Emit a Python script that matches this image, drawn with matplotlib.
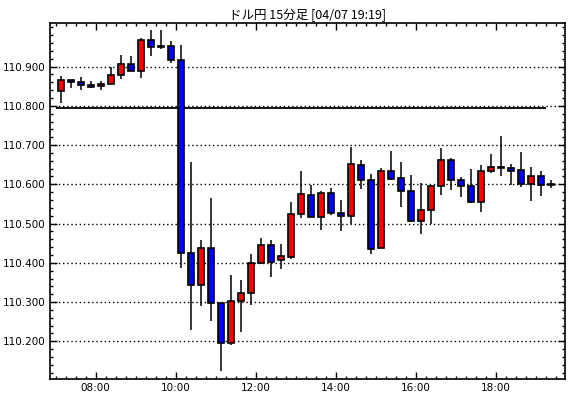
import matplotlib
matplotlib.use("Agg")
import matplotlib.pyplot as plt
import matplotlib.dates as mdates
from matplotlib.ticker import MultipleLocator, FixedLocator, FormatStrFormatter
import pandas as pd

plt.rcParams['font.family'] = ['Noto Sans CJK JP', 'DejaVu Sans']

title = "ドル円 15分足 [04/07 19:19]"
start_time = "2017-04-07 07:00"
n_bars = 50

opens = [110.839, 110.865, 110.860, 110.853, 110.850, 110.855, 110.878, 110.906, 110.888, 110.967,
         110.952, 110.952, 110.917, 110.425, 110.344, 110.439, 110.298, 110.196, 110.303, 110.322,
         110.400, 110.445, 110.406, 110.415, 110.524, 110.572, 110.516, 110.577, 110.526, 110.519,
         110.649, 110.611, 110.437, 110.634, 110.616, 110.583, 110.506, 110.534, 110.596, 110.662,
         110.611, 110.596, 110.555, 110.634, 110.644, 110.642, 110.637, 110.601, 110.622, 110.601]
highs = [110.876, 110.866, 110.874, 110.863, 110.863, 110.900, 110.930, 110.927, 110.972, 110.994,
         110.994, 110.966, 110.954, 110.657, 110.459, 110.566, 110.298, 110.368, 110.355, 110.422,
         110.464, 110.458, 110.448, 110.555, 110.634, 110.598, 110.582, 110.590, 110.560, 110.694,
         110.663, 110.626, 110.641, 110.686, 110.657, 110.624, 110.604, 110.597, 110.693, 110.668,
         110.619, 110.638, 110.650, 110.678, 110.722, 110.653, 110.683, 110.645, 110.635, 110.610]
lows = [110.808, 110.845, 110.841, 110.845, 110.841, 110.855, 110.869, 110.888, 110.872, 110.926,
        110.944, 110.908, 110.387, 110.230, 110.289, 110.253, 110.124, 110.191, 110.223, 110.292,
        110.396, 110.365, 110.383, 110.411, 110.515, 110.516, 110.483, 110.523, 110.480, 110.498,
        110.589, 110.423, 110.437, 110.611, 110.543, 110.504, 110.474, 110.498, 110.572, 110.585,
        110.567, 110.552, 110.530, 110.629, 110.621, 110.599, 110.594, 110.557, 110.570, 110.591]
closes = [110.865, 110.860, 110.852, 110.849, 110.855, 110.878, 110.906, 110.888, 110.967, 110.949,
          110.949, 110.917, 110.425, 110.344, 110.439, 110.298, 110.196, 110.303, 110.324, 110.400,
          110.445, 110.403, 110.417, 110.524, 110.575, 110.516, 110.577, 110.526, 110.519, 110.651,
          110.611, 110.434, 110.634, 110.613, 110.583, 110.506, 110.534, 110.595, 110.662, 110.611,
          110.596, 110.555, 110.634, 110.644, 110.641, 110.634, 110.601, 110.622, 110.599, 110.599]

ref_level = 110.795
y_ticks = [110.2, 110.3, 110.4, 110.5, 110.6, 110.7, 110.8, 110.9]

times = pd.date_range(start_time, periods=n_bars, freq="15min")
half = pd.Timedelta(minutes=7.5)
centers = mdates.date2num((times + half).to_pydatetime())
one_min = 1.0 / 1440.0

fig = plt.figure(figsize=(5.70, 3.98), dpi=100)
ax = fig.add_axes([50 / 570, (398 - 379) / 398, (565 - 50) / 570, (379 - 23) / 398])

# grid lines
for y in y_ticks:
    ax.axhline(y, color='black', lw=1.0, ls=(0, (1, 2)), zorder=1)

# reference line
ax.hlines(ref_level, mdates.date2num(times[0].to_pydatetime()),
          mdates.date2num(times[-1].to_pydatetime()), color='black', lw=1.3, zorder=2)

# wicks
ax.vlines(centers, lows, highs, color='black', lw=1.1, zorder=3)

# bodies
bottoms = [min(o, c) for o, c in zip(opens, closes)]
heights = [max(abs(c - o), 0.0008) for o, c in zip(opens, closes)]
colors = ['#ff0000' if c > o else '#0000ff' for o, c in zip(opens, closes)]
ax.bar(centers, heights, bottom=bottoms, width=9 * one_min, color=colors,
       edgecolor='black', linewidth=1.2, zorder=4)

# limits
t8 = mdates.date2num(pd.Timestamp("2017-04-07 08:00").to_pydatetime())
ax.set_xlim(t8 + (50 - 95.6) / 40 / 24, t8 + (565 - 95.6) / 40 / 24)
ax.set_ylim(110.104, 111.011)

ax.xaxis.set_major_locator(mdates.HourLocator(byhour=range(0, 24, 2)))
ax.xaxis.set_minor_locator(mdates.MinuteLocator(byminute=[0, 15, 30, 45]))
ax.xaxis.set_major_formatter(mdates.DateFormatter("%H:%M"))
ax.yaxis.set_major_locator(FixedLocator(y_ticks))
ax.yaxis.set_minor_locator(MultipleLocator(0.02))
ax.yaxis.set_major_formatter(FormatStrFormatter("%.3f"))

ax.tick_params(which='both', direction='in', top=True, right=True, labelsize=7.5,
               colors='black', width=1.0)
ax.tick_params(which='major', length=5, pad=3)
ax.tick_params(which='minor', length=2.5)
for sp in ax.spines.values():
    sp.set_linewidth(1.2)
    sp.set_color('black')

for lab in ax.get_xticklabels() + ax.get_yticklabels():
    lab.set_family('DejaVu Sans')

ax.set_title(title, fontsize=9, pad=3)

fig.savefig("out.png", dpi=100)
